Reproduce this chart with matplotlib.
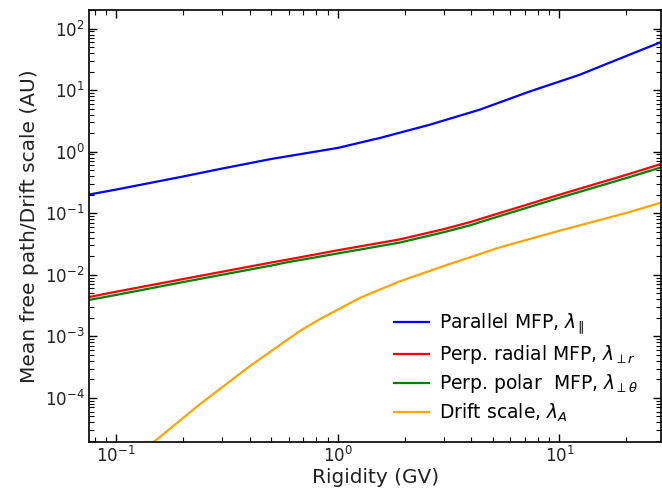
import matplotlib
matplotlib.use("Agg")
import matplotlib.pyplot as plt
import numpy as np

# Rigidity (GV) sample points
rig_par = [0.0755, 0.1, 0.2, 0.3, 0.5, 1.0, 1.55, 2.6, 4.36, 7.33, 12.3, 20.0, 28.8]
lam_par = [0.201, 0.242, 0.394, 0.53, 0.76, 1.15, 1.67, 2.74, 4.8, 9.48, 17.7, 35.8, 60.6]

rig_perp = [0.0755, 0.1, 0.2, 0.5, 0.577, 1.0, 1.9, 3.0, 3.93, 5.0, 10.0, 20.0, 28.8]
lam_perp_r = [0.00435, 0.0053, 0.0085, 0.0158, 0.0173, 0.025, 0.0375, 0.055, 0.0714, 0.093, 0.20, 0.42, 0.632]
lam_perp_t = [0.0039, 0.0047, 0.0076, 0.0141, 0.0157, 0.0222, 0.0333, 0.049, 0.0632, 0.083, 0.178, 0.372, 0.557]

rig_drift = [0.0755, 0.1, 0.15, 0.239, 0.402, 0.674, 0.83, 1.256, 1.9, 3.2, 3.93, 5.36, 10.0, 20.0, 28.8]
lam_drift = [2.5e-6, 6e-6, 2.0e-5, 7.9e-5, 3.3e-4, 1.22e-3, 1.9e-3, 4.2e-3, 7.8e-3, 0.0150, 0.0191, 0.0278, 0.052, 0.101, 0.149]

labels = [
    r"Parallel MFP, $\lambda_\parallel$",
    r"Perp. radial MFP, $\lambda_{\perp r}$",
    r"Perp. polar  MFP, $\lambda_{\perp \theta}$",
    r"Drift scale, $\lambda_A$",
]

x_major = [0.1, 1.0, 10.0]
y_major = [1e-4, 1e-3, 1e-2, 1e-1, 1e0, 1e1, 1e2]

fig = plt.figure(figsize=(6.62, 4.91), dpi=100)
ax = fig.add_axes([0.1344, 0.0998, 0.8646, 0.8798])

ax.plot(rig_par, lam_par, color="blue", lw=1.6, label=labels[0])
ax.plot(rig_perp, lam_perp_r, color="red", lw=1.6, label=labels[1])
ax.plot(rig_perp, lam_perp_t, color="green", lw=1.6, label=labels[2])
ax.plot(rig_drift, lam_drift, color="orange", lw=1.6, label=labels[3])

ax.set_xscale("log")
ax.set_yscale("log")
ax.set_xticks(x_major)
ax.set_yticks(y_major)
ax.set_xlim(0.0755, 28.8)
ax.set_ylim(1.92e-5, 200)

ax.set_xlabel("Rigidity (GV)", fontsize=14.5, color="#222222", labelpad=1.5)
ax.set_ylabel("Mean free path/Drift scale (AU)", fontsize=14.5, color="#222222")

ax.tick_params(which="both", direction="in", top=True, right=True, labelsize=12,
               labelcolor="#222222", pad=3)
ax.tick_params(which="major", length=6, width=1)
ax.tick_params(which="minor", length=3.5, width=0.8)
for s in ax.spines.values():
    s.set_linewidth(1.2)

ax.legend(loc="lower right", frameon=False, fontsize=13.5, labelspacing=0.33,
          handlelength=1.85, handletextpad=0.55, bbox_to_anchor=(0.99, 0.003))

fig.savefig("out.png", dpi=100)
